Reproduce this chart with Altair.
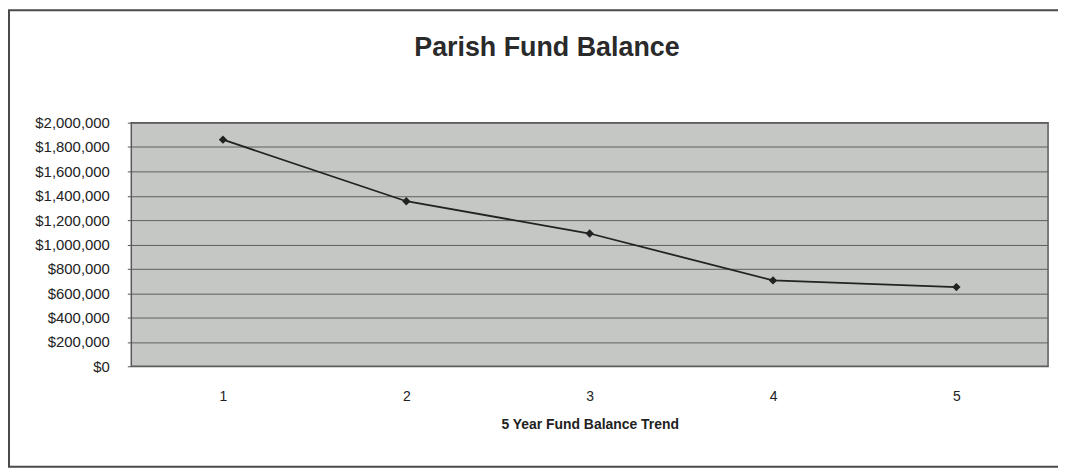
import altair as alt
import pandas as pd

years = ["1", "2", "3", "4", "5"]
balances = [1860000, 1355000, 1090000, 705000, 650000]
y_ticks = [0, 200000, 400000, 600000, 800000, 1000000, 1200000, 1400000,
           1600000, 1800000, 2000000]

df = pd.DataFrame({"year": years, "balance": balances})

FONT = "Liberation Sans"

x_enc = alt.X(
    "year:O",
    scale=alt.Scale(type="point", padding=0.5),
    axis=alt.Axis(
        title="5 Year Fund Balance Trend",
        labelAngle=0,
        labelFont=FONT,
        labelFontSize=14,
        labelColor="#222222",
        labelPadding=23,
        ticks=False,
        domain=False,
        grid=False,
        titleFont=FONT,
        titleFontSize=14,
        titleFontWeight="bold",
        titleColor="#222222",
        titlePadding=15,
    ),
)
y_enc = alt.Y(
    "balance:Q",
    scale=alt.Scale(domain=[0, 2000000], nice=False),
    axis=alt.Axis(
        title=None,
        values=y_ticks,
        format="$,.0f",
        labelFont=FONT,
        labelFontSize=15,
        labelColor="#222222",
        labelPadding=18,
        tickSize=4,
        tickColor="#555555",
        domain=False,
        grid=True,
        gridColor="#5f5f5f",
        gridWidth=1,
    ),
)

line = alt.Chart(df).mark_line(color="#222222", strokeWidth=1.8).encode(
    x=x_enc, y=y_enc
)
points = alt.Chart(df).mark_point(
    shape="diamond", filled=True, size=70, color="#222222", opacity=1
).encode(x=x_enc, y=y_enc)

frame = alt.Chart(alt.Data(values=[{}])).mark_rect(
    fill="transparent", stroke="#4a4a4a", strokeWidth=2
).encode(
    x=alt.value(-123), x2=alt.value(960),
    y=alt.value(-113), y2=alt.value(346),
)

chart = alt.layer(frame, line, points).properties(
    width=922,
    height=245,
    title=alt.TitleParams(
        text="Parish Fund Balance",
        font=FONT,
        fontSize=27,
        fontWeight="bold",
        color="#2a2a2a",
        anchor="middle",
        frame="group",
        baseline="alphabetic",
        offset=0,
        dx=-43,
        dy=74,
    ),
    autosize=alt.AutoSizeParams(type="none"),
    padding={"left": 124, "top": 114, "right": 10, "bottom": 102},
    background="white",
).configure_view(
    fill="#c4c7c4",
    stroke="#5a5a5a",
    strokeWidth=1.5,
)

chart.save("out.html", embed_options={"renderer": "svg", "actions": False})
